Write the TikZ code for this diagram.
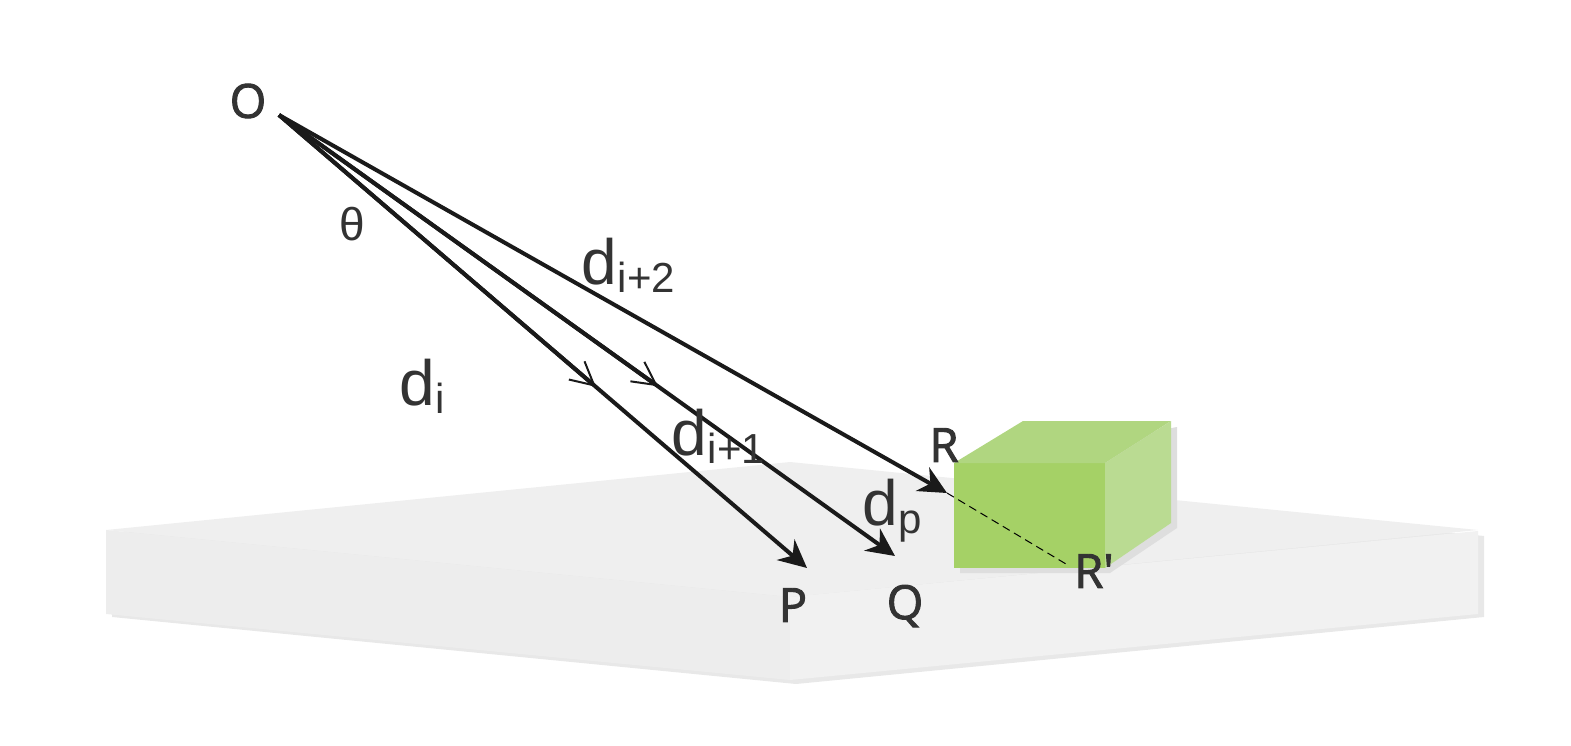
\documentclass[tikz,border=0pt]{standalone}
\usepackage{fontspec}
\newfontfamily\pointfont[RawFeature={embolden=2}]{Open Sans}
\newfontfamily\distfont{Liberation Sans}
\usetikzlibrary{arrows.meta,calc}

\newcommand{\distlabel}[1]{{\distfont\fontsize{64}{64}\selectfont d\kern1pt\raisebox{-8pt}{\fontsize{42}{42}\selectfont #1}}}

\tikzset{
    ray/.style={draw={rgb,255:red,26;green,26;blue,26}, line width=4pt},
    raytip/.style={ray, -{Stealth[length=28pt, width=27pt, inset=9pt]}},
    midtip/.style={ray, -{Straight Barb[length=23pt, width=24pt, line width=2pt]}},
    pointlabel/.style={text={rgb,255:red,51;green,51;blue,51}, inner sep=0pt, font=\pointfont\fontsize{47}{47}\selectfont},
    distlabelstyle/.style={text={rgb,255:red,51;green,51;blue,51}, inner sep=0pt, anchor=base west}
}

\begin{document}
\begin{tikzpicture}[x=1pt, y=-1pt]
    \useasboundingbox (0,0) rectangle (1571,746);

    % slab
    \fill [color=black!9] (112,533) -- (795,465) -- (1484,536) -- (1484,617) -- (796,684) -- (112,617) -- cycle;
    \fill [color=black!6.3] (106,530) -- (790,462) -- (1478,530) -- (790,597) -- cycle;
    \fill [color=black!7] (106,530) -- (790,597) -- (790,680) -- (106,614) -- cycle;
    \fill [color=black!5.5] (790,597) -- (1478,531) -- (1478,614) -- (790,680) -- cycle;

    % box
    \fill [color=black!13] (960,468) -- (1177,427) -- (1177,528) -- (1110,573) -- (960,573) -- cycle;
    \fill [color={rgb,255:red,165;green,209;blue,102}] (954,463) rectangle (1105,568);
    \fill [color={rgb,255:red,176;green,214;blue,128}] (954,463) -- (1023,421) -- (1171,421) -- (1105,463) -- cycle;
    \fill [color={rgb,255:red,186;green,219;blue,146}] (1105,463) -- (1171,421) -- (1171,523) -- (1105,568) -- cycle;

    \coordinate (apex) at (279,115);
    \coordinate (tipP) at (807,568);
    \coordinate (tipQ) at (895,556);
    \coordinate (tipR) at (947,493);
    \coordinate (foot) at (1066,564);
    \coordinate (midP) at ($(apex)!0.6!(tipP)$);
    \coordinate (midQ) at ($(apex)!0.615!(tipQ)$);

    \draw [raytip] (apex) -- (tipP);
    \draw [midtip] (apex) -- (midP);
    \draw [raytip] (apex) -- (tipQ);
    \draw [midtip] (apex) -- (midQ);
    \draw [raytip] (apex) -- (tipR);
    \draw [line width=1pt, dash pattern=on 8pt off 5pt] (tipR) -- (foot);

    \node [pointlabel] (labelO) at (248,101) {O};
    \node [pointlabel] (labelP) at (793,605) {P};
    \node [pointlabel] (labelQ) at (905,606) {Q};
    \node [pointlabel] (labelR) at (944,445) {R};
    \node [pointlabel] (labelRp) at (1094,571) {R'};
    \node [pointlabel, font=\distfont\fontsize{46}{46}\selectfont] (theta) at (352,224) {θ};

    \node [distlabelstyle] (di) at (399,405) {\distlabel{i}};
    \node [distlabelstyle] (dione) at (671,455) {\distlabel{i+1}};
    \node [distlabelstyle] (ditwo) at (581,284) {\distlabel{i+2}};
    \node [distlabelstyle] (dp) at (862,525) {\distlabel{p}};
\end{tikzpicture}
\end{document}
